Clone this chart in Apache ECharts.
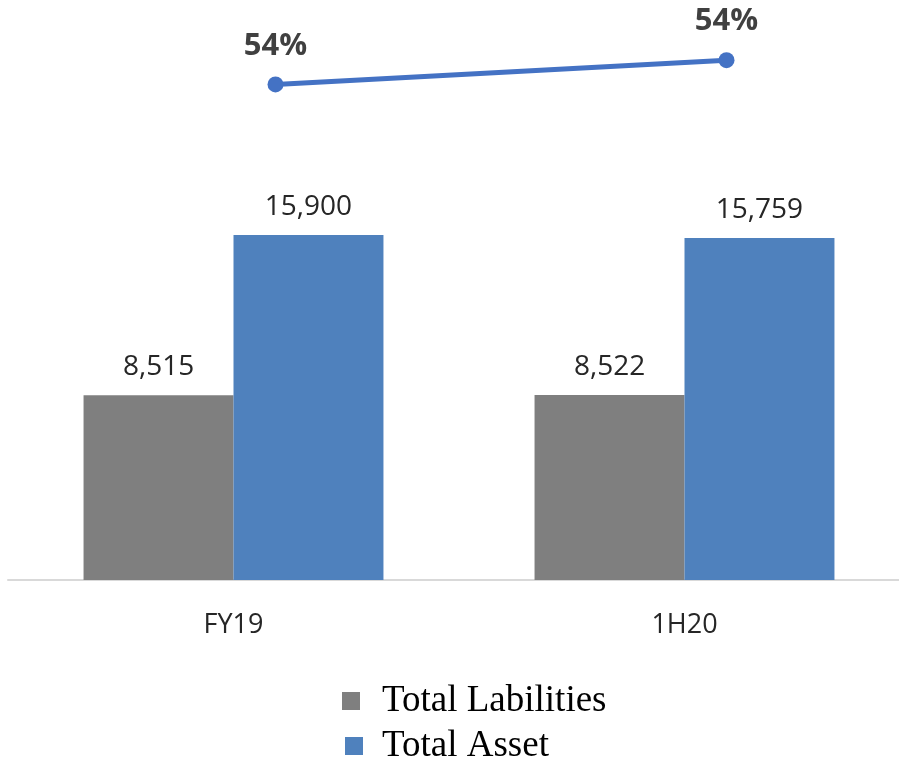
<!DOCTYPE html>
<html>
<head>
<meta charset="utf-8">
<script src="https://cdn.jsdelivr.net/npm/echarts@6/dist/echarts.min.js"></script>
<style>
  html, body { margin: 0; padding: 0; background: #ffffff; overflow: hidden; }
  #wrap { width: 899px; height: 761px; overflow: hidden; }
  /* canvas runs past the right edge so the plot can extend beyond the view */
  #chart { width: 960px; height: 761px; }
</style>
</head>
<body>
<div id="wrap"><div id="chart"></div></div>
<script>
// Periods and balance sheet figures
const categories = ['FY19', '1H20'];
const totalLiabilities = [8515, 8522];
const totalAsset = [15900, 15759];
// Liabilities-to-asset ratio, percent
const ratioPct = [53.55, 54.08];
const legendNames = ['Total Labilities', 'Total Asset'];

const chart = echarts.init(document.getElementById('chart'));

const legendText = (padLeft) => ({
  fontFamily: 'Liberation Serif', fontSize: 37, color: '#000000', lineHeight: 40, padding: [0, 0, 0, padLeft]
});

const barLabel = {
  show: true, position: 'top', distance: 14,
  fontSize: 28, color: '#262626', fontFamily: 'Open Sans',
  formatter: p => p.value.toLocaleString('en-US')
};

chart.setOption({
  backgroundColor: '#ffffff',
  animation: false,
  grid: [
    { left: 8, width: 902, top: 146, height: 434 },
    { left: 50, width: 902, top: 18, height: 137.4 }
  ],
  xAxis: [
    {
      type: 'category', gridIndex: 0, data: categories,
      axisLine: { lineStyle: { color: '#d9d9d9', width: 2 } },
      axisTick: { show: false },
      axisLabel: { margin: 32, fontSize: 27, color: '#262626', fontFamily: 'Open Sans' }
    },
    { type: 'category', gridIndex: 1, data: categories, show: false }
  ],
  yAxis: [
    { type: 'value', gridIndex: 0, min: 0, max: 20000, show: false },
    { type: 'value', gridIndex: 1, min: 52, max: 55, show: false }
  ],
  legend: [
    {
      left: 342, top: 681, padding: 0, data: [legendNames[0]], icon: 'rect',
      itemWidth: 18, itemHeight: 18, textStyle: legendText(17)
    },
    {
      left: 345, top: 726, padding: 0, data: [legendNames[1]], icon: 'rect',
      itemWidth: 18, itemHeight: 18, textStyle: legendText(14)
    }
  ],
  series: [
    {
      name: legendNames[0], type: 'bar', xAxisIndex: 0, yAxisIndex: 0,
      data: totalLiabilities,
      barGap: '0%', barCategoryGap: '33.5%',
      itemStyle: { color: '#7f7f7f' },
      label: barLabel
    },
    {
      name: legendNames[1], type: 'bar', xAxisIndex: 0, yAxisIndex: 0,
      data: totalAsset,
      barGap: '0%', barCategoryGap: '33.5%',
      itemStyle: { color: '#4f81bd' },
      label: barLabel
    },
    {
      name: 'Ratio', type: 'line', xAxisIndex: 1, yAxisIndex: 1,
      data: ratioPct,
      symbol: 'circle', symbolSize: 16,
      lineStyle: { color: '#4472c4', width: 5 },
      itemStyle: { color: '#4472c4' },
      label: {
        show: true, position: 'top', distance: 15,
        fontSize: 31, fontWeight: 'bold', color: '#404040', fontFamily: 'Open Sans',
        formatter: p => Math.round(p.value) + '%'
      }
    }
  ]
});
</script>
</body>
</html>
